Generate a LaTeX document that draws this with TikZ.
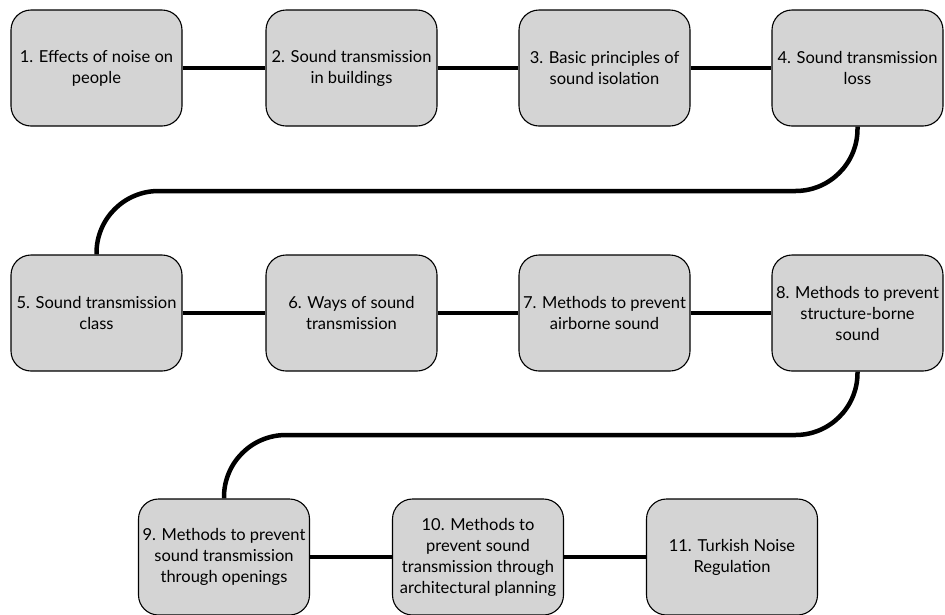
\documentclass[tikz,border=0pt]{standalone}
\usepackage{fontspec}
\setmainfont{Lato}
\usepackage{tikz}

\definecolor{boxgray}{RGB}{212,212,212}
\tikzset{
  topic/.style={draw=black, line width=1.1pt, fill=boxgray, rounded corners=20pt,
    minimum width=171pt, minimum height=116pt, align=center, inner xsep=0pt, inner ysep=1pt,
    font=\fontsize{16.5}{21}\selectfont},
  link/.style={line width=4.5pt, black}
}

\begin{document}
\begin{tikzpicture}[x=1pt,y=-1pt]
    \useasboundingbox (0,0) rectangle (945,614);

    % Erste Reihe
    \node[topic] (t1) at (96.5,68) {1. Effects of noise on\\people};
    \node[topic] (t2) at (351.5,68) {2. Sound transmission\\in buildings};
    \node[topic] (t3) at (604.5,68) {3. Basic principles of\\sound isolation};
    \node[topic] (t4) at (857.5,68) {4. Sound transmission\\loss};

    % Zweite Reihe
    \node[topic] (t5) at (96.5,313) {5. Sound transmission\\class};
    \node[topic] (t6) at (351.5,313) {6. Ways of sound\\transmission};
    \node[topic] (t7) at (604.5,313) {7. Methods to prevent\\airborne sound};
    \node[topic] (t8) at (857.5,313) {8. Methods to prevent\\structure-borne\\sound};

    % Dritte Reihe
    \node[topic] (t9) at (224,557) {9. Methods to prevent\\sound transmission\\through openings};
    \node[topic] (t10) at (478,557) {10. Methods to\\prevent sound\\transmission through\\architectural planning};
    \node[topic] (t11) at (732,557) {11. Turkish Noise\\Regulation};

    % Verbindungen in den Reihen
    \draw[link] (t1) -- (t2);
    \draw[link] (t2) -- (t3);
    \draw[link] (t3) -- (t4);
    \draw[link] (t5) -- (t6);
    \draw[link] (t6) -- (t7);
    \draw[link] (t7) -- (t8);
    \draw[link] (t9) -- (t10);
    \draw[link] (t10) -- (t11);

    % Uebergaenge zwischen den Reihen
    \coordinate (bend45) at (477,191);
    \coordinate (bend89) at (540,435);
    \draw[link, rounded corners=62pt] (t4.south) |- (bend45) -| (t5.north);
    \draw[link, rounded corners=62pt] (t8.south) |- (bend89) -| (t9.north);

\end{tikzpicture}
\end{document}
